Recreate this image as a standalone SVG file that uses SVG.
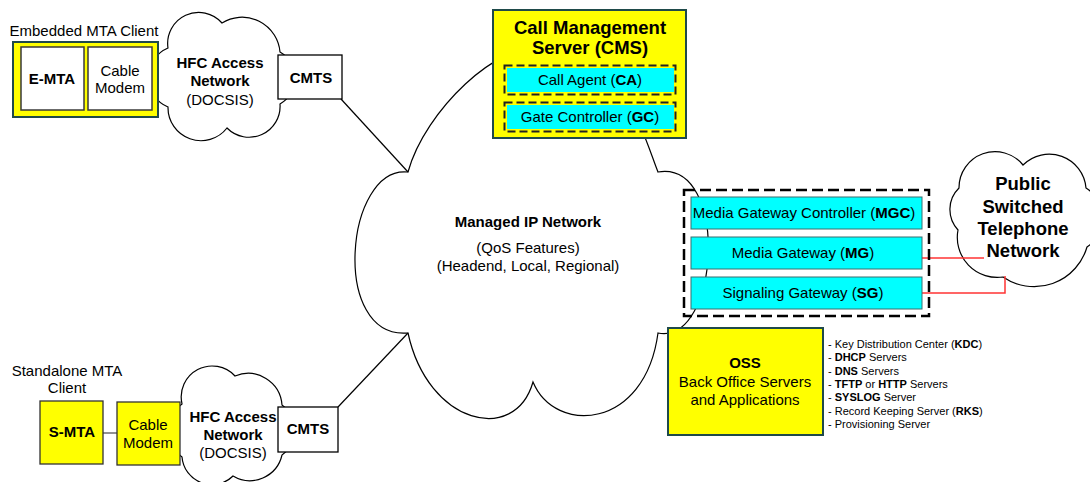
<svg xmlns="http://www.w3.org/2000/svg" width="1090" height="482" viewBox="0 0 1090 482">
<style>
text { font-family: "Liberation Sans", Arial, sans-serif; font-size: 15px; fill: #000; text-anchor: middle; }
.b { font-weight: bold; }
.cloud { fill: #fff; stroke: #000; stroke-width: 1.2; }
.yel { fill: #ff0; stroke: #1f4a4a; stroke-width: 2; }
.ybox { fill: #ff0; stroke: #333; stroke-width: 1.3; }
.wbox { fill: #fff; stroke: #3a3a3a; stroke-width: 1.5; }
.cyan { fill: #0ff; stroke: #3b6f6f; stroke-width: 1; }
.dash { fill: none; stroke: #222; stroke-width: 2; stroke-dasharray: 8 4; }
.bigdash { fill: none; stroke: #000; stroke-width: 2.5; stroke-dasharray: 11 5; }
.wire { stroke: #000; stroke-width: 1.2; fill: none; }
.gwire { stroke: #555; stroke-width: 1.3; fill: none; }
.red { stroke: #f33; stroke-width: 1.5; fill: none; }
.list { font-size: 11px; text-anchor: start; }
</style>

<!-- Managed IP Network cloud -->
<g id="managed-ip-network">
  <path class="cloud" d="M408,172 C345,165 330,340 408,333 C428,425 515,445 533,382 C555,435 645,430 658,333 C720,345 730,160 658,172 C645,140 620,40 540,50 C500,40 425,110 408,172 Z"/>
  <text class="b" x="528" y="227">Managed IP Network</text>
  <text x="528" y="253">(QoS Features)</text>
  <text x="528" y="271">(Headend, Local, Regional)</text>
</g>

<!-- HFC access network (top) -->
<g id="hfc-top">
  <path class="cloud" d="M168,48 A31,31 0 0 1 222,23 A38,38 0 0 1 280,52 A30,30 0 0 1 280,104 A31,31 0 0 1 227,128 A33,33 0 0 1 168,107 A32,32 0 0 1 168,48 Z"/>
  <text class="b" x="220" y="68">HFC Access</text>
  <text class="b" x="220" y="86">Network</text>
  <text x="220" y="105">(DOCSIS)</text>
</g>

<!-- HFC access network (bottom) -->
<g id="hfc-bottom">
  <path class="cloud" d="M182,404 A31,31 0 0 1 235,376 A34,34 0 0 1 282,405 A30,30 0 0 1 282,455 A33,33 0 0 1 233,476 A30,30 0 0 1 182,457 A32,32 0 0 1 182,404 Z"/>
  <text class="b" x="233" y="422">HFC Access</text>
  <text class="b" x="233" y="440">Network</text>
  <text x="233" y="458">(DOCSIS)</text>
</g>

<!-- PSTN cloud -->
<g id="pstn">
  <path class="cloud" d="M959,188 A36,36 0 0 1 1023,165 A37,37 0 0 1 1086,188 A35,35 0 0 1 1087,247 A55,55 0 0 1 1003,277 A40,40 0 0 1 958,230 A30,30 0 0 1 959,188 Z"/>
  <text class="b" x="1023" y="190" style="font-size:18.5px">Public</text>
  <text class="b" x="1023" y="213" style="font-size:18.5px">Switched</text>
  <text class="b" x="1023" y="235" style="font-size:18.5px">Telephone</text>
  <text class="b" x="1023" y="257" style="font-size:18.5px">Network</text>
</g>

<!-- Connectors -->
<g id="connectors">
  <line class="wire" x1="341" y1="99" x2="408" y2="172"/>
  <line class="wire" x1="338" y1="407" x2="408" y2="333"/>
  <line class="gwire" x1="103" y1="433" x2="117" y2="433"/>
  <polyline class="red" points="922,258 984,258"/>
  <polyline class="red" points="922,293 1005,293 1005,276"/>
</g>

<!-- Embedded MTA client -->
<g id="embedded-mta">
  <text x="84" y="36">Embedded MTA Client</text>
  <rect class="yel" x="13" y="42" width="145" height="75"/>
  <rect class="wbox" x="21" y="47" width="63" height="63"/>
  <text class="b" x="52" y="84">E-MTA</text>
  <rect class="wbox" x="88" y="47" width="64" height="63"/>
  <text x="120" y="76">Cable</text>
  <text x="120" y="93">Modem</text>
</g>

<!-- CMTS top -->
<g id="cmts-top">
  <rect class="wbox" x="278" y="55" width="64" height="44" style="stroke:#000;stroke-width:1.3"/>
  <text class="b" x="311" y="83">CMTS</text>
</g>

<!-- Standalone MTA client -->
<g id="standalone-mta">
  <text x="67" y="376">Standalone MTA</text>
  <text x="67" y="393">Client</text>
  <rect class="ybox" x="40" y="401" width="63" height="63"/>
  <text class="b" x="72" y="437">S-MTA</text>
</g>

<g id="cable-modem-bottom">
  <rect class="ybox" x="117" y="402" width="63" height="63"/>
  <text x="148" y="430">Cable</text>
  <text x="148" y="448">Modem</text>
</g>

<!-- CMTS bottom -->
<g id="cmts-bottom">
  <rect class="wbox" x="278" y="407" width="60" height="45" style="stroke:#000;stroke-width:1.3"/>
  <text class="b" x="308" y="434">CMTS</text>
</g>

<!-- Call Management Server -->
<g id="cms">
  <rect class="yel" x="493" y="10" width="193" height="128"/>
  <text class="b" x="590" y="34" style="font-size:18.5px">Call Management</text>
  <text class="b" x="590" y="54" style="font-size:18.5px">Server (CMS)</text>
  <g id="call-agent">
    <rect x="507" y="68" width="167" height="24" fill="#0ff"/>
    <rect class="dash" x="504.5" y="65.5" width="171" height="29"/>
    <text x="590" y="85">Call Agent (<tspan class="b">CA</tspan>)</text>
  </g>
  <g id="gate-controller">
    <rect x="507" y="105" width="167" height="24" fill="#0ff"/>
    <rect class="dash" x="504.5" y="102.5" width="171" height="29"/>
    <text x="590" y="122">Gate Controller (<tspan class="b">GC</tspan>)</text>
  </g>
</g>

<!-- Media gateway group -->
<g id="gateways">
  <rect class="bigdash" x="684" y="190" width="245" height="126"/>
  <g id="mgc">
    <rect class="cyan" x="691" y="197" width="231" height="32"/>
    <text x="804" y="218">Media Gateway Controller (<tspan class="b">MGC</tspan>)</text>
  </g>
  <g id="mg">
    <rect class="cyan" x="691" y="237" width="231" height="32"/>
    <text x="803" y="258">Media Gateway (<tspan class="b">MG</tspan>)</text>
  </g>
  <g id="sg">
    <rect class="cyan" x="691" y="277" width="231" height="32"/>
    <text x="803" y="298">Signaling Gateway (<tspan class="b">SG</tspan>)</text>
  </g>
</g>

<!-- OSS -->
<g id="oss">
  <rect class="yel" x="668" y="328" width="155" height="107"/>
  <text class="b" x="745" y="368">OSS</text>
  <text x="745" y="387">Back Office Servers</text>
  <text x="745" y="405">and Applications</text>
  <text class="list" x="828" y="348">- Key Distribution Center (<tspan class="b">KDC</tspan>)</text>
  <text class="list" x="828" y="361">- <tspan class="b">DHCP</tspan> Servers</text>
  <text class="list" x="828" y="375">- <tspan class="b">DNS</tspan> Servers</text>
  <text class="list" x="828" y="388">- <tspan class="b">TFTP</tspan> or <tspan class="b">HTTP</tspan> Servers</text>
  <text class="list" x="828" y="401">- <tspan class="b">SYSLOG</tspan> Server</text>
  <text class="list" x="828" y="415">- Record Keeping Server (<tspan class="b">RKS</tspan>)</text>
  <text class="list" x="828" y="428">- Provisioning Server</text>
</g>
</svg>
